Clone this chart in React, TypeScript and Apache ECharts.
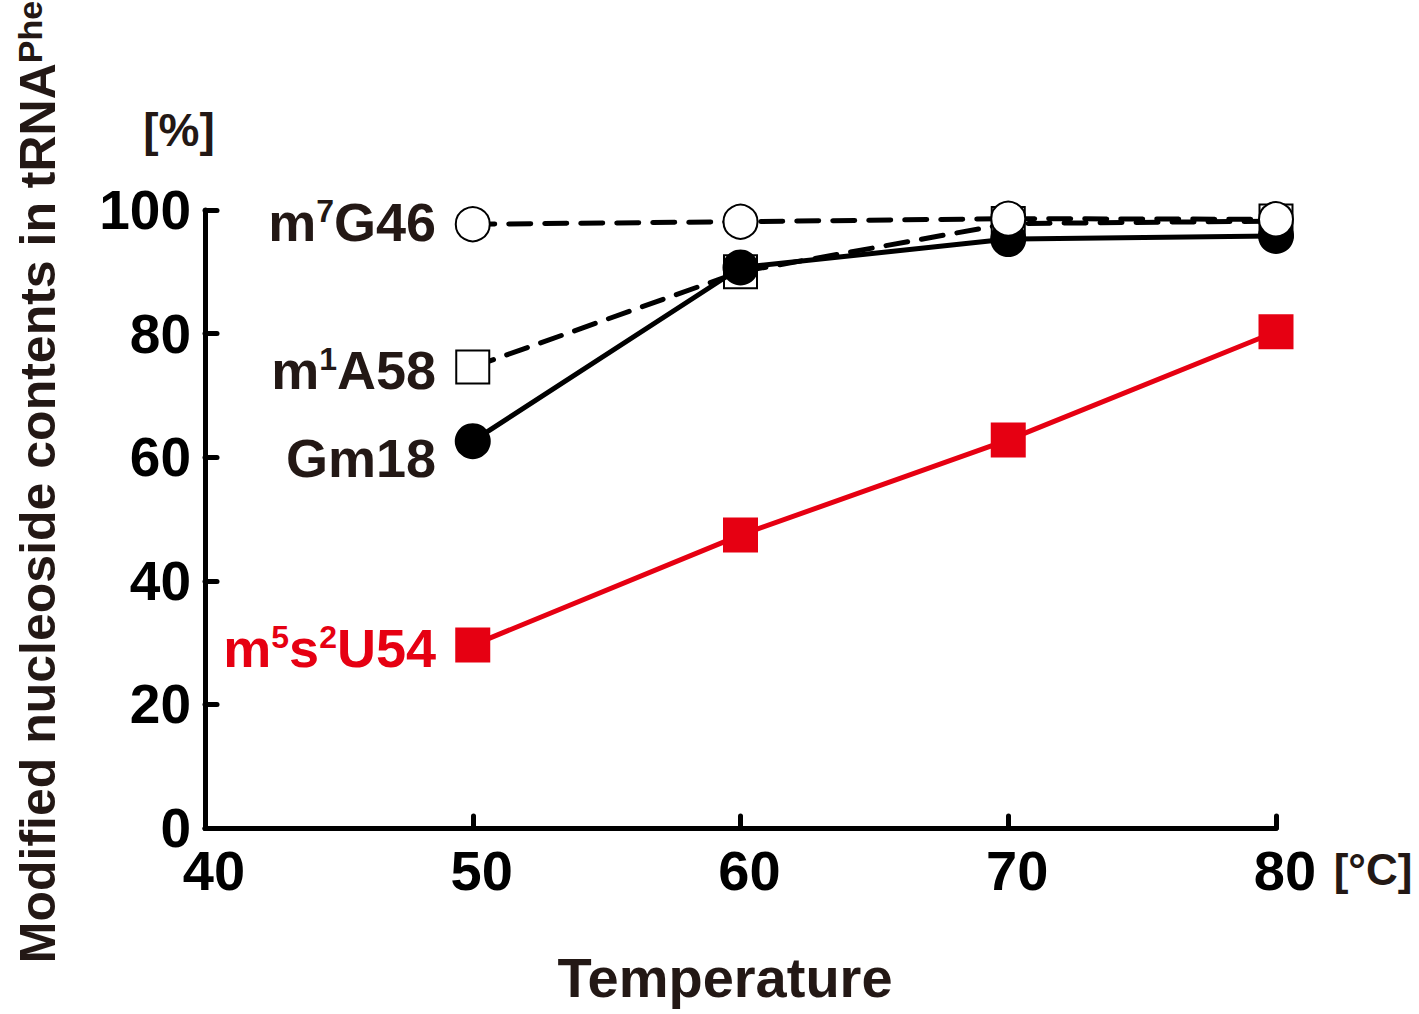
import React, { useEffect, useRef } from "react";
import * as echarts from "echarts";

const temperatures = [50, 60, 70, 80];
const m7G46 = [97.7, 98.1, 98.6, 98.5];
const m1A58 = [74.6, 90.0, 97.8, 98.2];
const gm18 = [62.6, 90.7, 95.3, 95.8];
const m5s2U54 = [29.6, 47.4, 62.8, 80.3];
const xTicks = [40, 50, 60, 70, 80];
const yTicks = [0, 20, 40, 60, 80, 100];

const RED = "#e60012";
const TXT = "#231815";
const FONT = "'Liberation Sans', Arial, sans-serif";

const pairs = (ys: number[]) => temperatures.map((t, i) => [t, ys[i]]);

export default function App() {
  const ref = useRef<HTMLDivElement>(null);
  useEffect(() => {
    if (!ref.current) return;
    const chart = echarts.init(ref.current, null, { renderer: "svg" });
    const lab = (size: number, color: string) => ({
      fontSize: size,
      fontWeight: "bold",
      fontFamily: FONT,
      fill: color,
    });
    const rich = (color: string) => ({
      a: { fontSize: 54, fontWeight: "bold", fontFamily: FONT, color },
      s: { fontSize: 32, fontWeight: "bold", fontFamily: FONT, color, verticalAlign: "top" },
    });
    const seriesLabel = (text: string, y: number, color: string) => ({
      type: "text",
      x: 436,
      y,
      style: {
        text,
        rich: rich(color),
        align: "right",
        verticalAlign: "middle",
        fill: color,
      },
    });
    chart.setOption({
      animation: false,
      backgroundColor: "#fff",
      grid: { left: 205, right: 143, top: 210, bottom: 186, containLabel: false },
      xAxis: {
        type: "value",
        min: 40,
        max: 80,
        interval: 10,
        axisLine: { lineStyle: { color: "#000", width: 5, cap: "round" } },
        axisTick: { inside: true, length: 12, lineStyle: { color: "#000", width: 5, cap: "round" } },
        splitLine: { show: false },
        axisLabel: {
          margin: 14,
          fontSize: 56,
          fontWeight: "bold",
          fontFamily: FONT,
          color: "#000",
          padding: [0, 0, 0, 18],
          showMinLabel: true,
          showMaxLabel: true,
          customValues: xTicks,
        },
      },
      yAxis: {
        type: "value",
        min: 0,
        max: 100,
        interval: 20,
        axisLine: { lineStyle: { color: "#000", width: 5, cap: "round" } },
        axisTick: { inside: true, length: 12, lineStyle: { color: "#000", width: 5, cap: "round" } },
        splitLine: { show: false },
        axisLabel: {
          margin: 14,
          fontSize: 55,
          fontWeight: "bold",
          fontFamily: FONT,
          color: "#000",
          padding: [0, 0, 8, 0],
          customValues: yTicks,
        },
      },
      series: [
        {
          name: "m5s2U54",
          type: "line",
          data: pairs(m5s2U54),
          symbol: "rect",
          symbolSize: 35,
          lineStyle: { color: RED, width: 5 },
          itemStyle: { color: RED, borderWidth: 0 },
          z: 2,
        },
        {
          name: "m1A58",
          type: "line",
          data: pairs(m1A58),
          symbol: "rect",
          symbolSize: 33,
          lineStyle: { color: "#000", width: 5, type: [22, 14], cap: "round" },
          itemStyle: { color: "#fff", borderColor: "#000", borderWidth: 2 },
          z: 3,
        },
        {
          name: "Gm18",
          type: "line",
          data: pairs(gm18),
          symbol: "circle",
          symbolSize: 36,
          lineStyle: { color: "#000", width: 5 },
          itemStyle: { color: "#000", borderWidth: 0 },
          z: 4,
        },
        {
          name: "m7G46",
          type: "line",
          data: pairs(m7G46),
          symbol: "circle",
          symbolSize: 34,
          lineStyle: { color: "#000", width: 5, type: [22, 14], cap: "round" },
          itemStyle: { color: "#fff", borderColor: "#000", borderWidth: 2 },
          z: 5,
        },
      ],
      graphic: [
        seriesLabel("{a|m}{s|7}{a|G46}", 222, TXT),
        seriesLabel("{a|m}{s|1}{a|A58}", 370, TXT),
        seriesLabel("{a|Gm18}", 458, TXT),
        seriesLabel("{a|m}{s|5}{a|s}{s|2}{a|U54}", 648, RED),
        {
          type: "text",
          x: 179,
          y: 130,
          style: { text: "[%]", align: "center", verticalAlign: "middle", ...lab(46, TXT) },
        },
        {
          type: "text",
          x: 1373,
          y: 869,
          style: { text: "[°C]", align: "center", verticalAlign: "middle", ...lab(44, TXT) },
        },
        {
          type: "text",
          x: 725,
          y: 977,
          style: { text: "Temperature", align: "center", verticalAlign: "middle", ...lab(56, TXT) },
        },
        {
          type: "text",
          x: 38,
          y: 482,
          rotation: Math.PI / 2,
          style: {
            text: "{a|Modified nucleoside contents in tRNA}{s|Phe}",
            align: "center",
            verticalAlign: "middle",
            fill: TXT,
            rich: {
              a: { fontSize: 50, fontWeight: "bold", fontFamily: FONT, color: TXT },
              s: { fontSize: 34, fontWeight: "bold", fontFamily: FONT, color: TXT, verticalAlign: "top" },
            },
          },
        },
      ],
    });
    return () => chart.dispose();
  }, []);
  return (
    <div
      ref={ref}
      style={{ position: "fixed", left: 0, top: 0, width: 1419, height: 1014, background: "#fff" }}
    />
  );
}
